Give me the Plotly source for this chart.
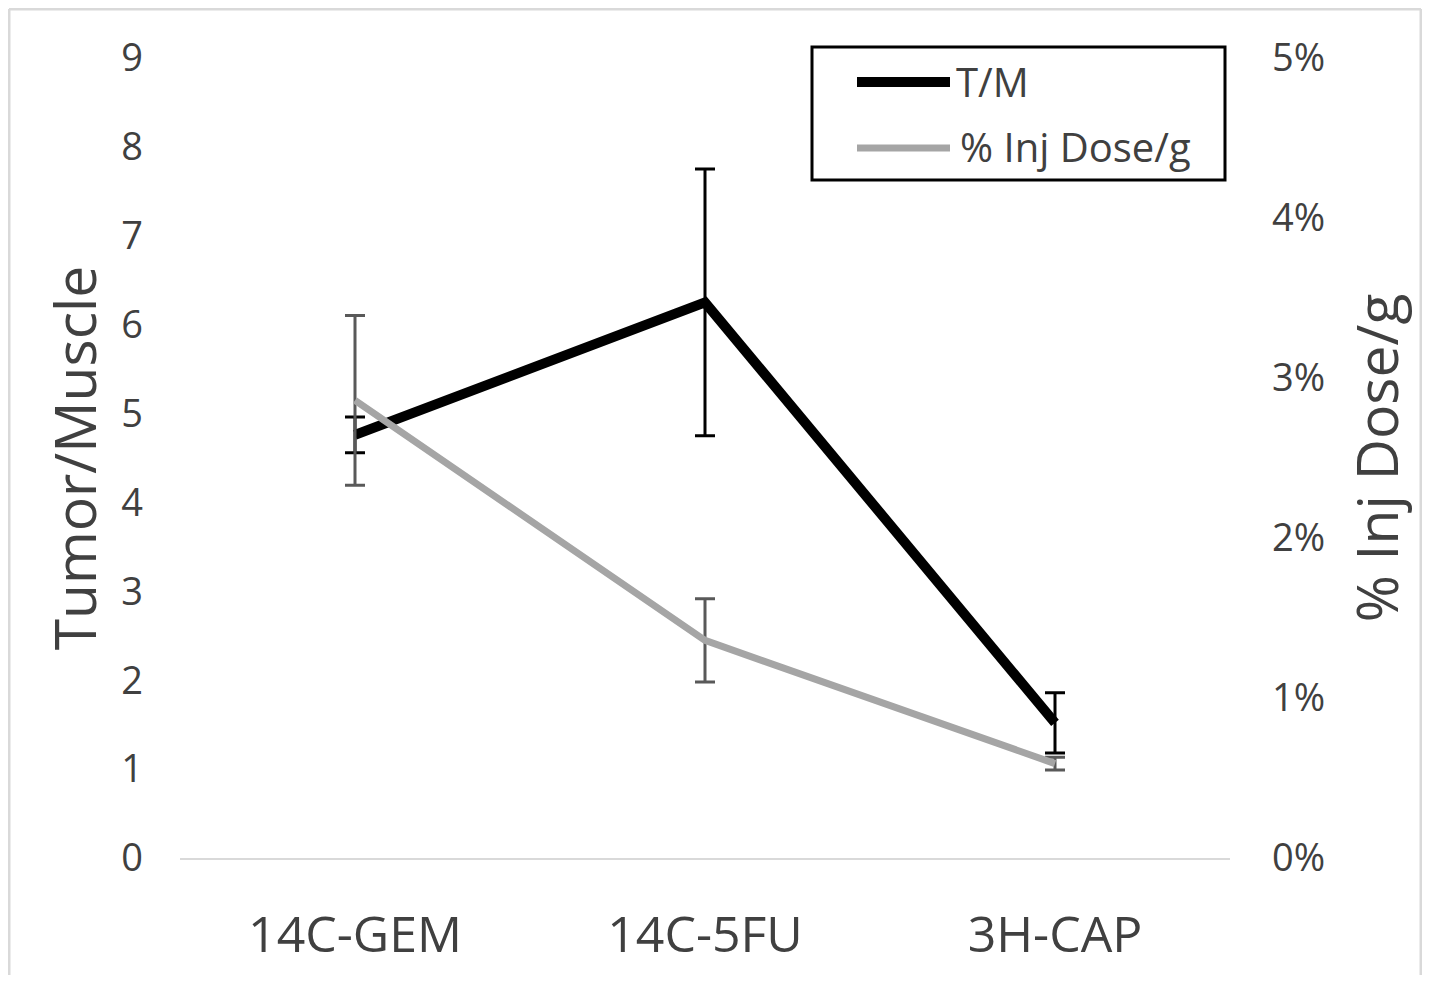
import plotly.graph_objects as go

categories = ["14C-GEM", "14C-5FU", "3H-CAP"]
tm_values = [4.76, 6.25, 1.52]
tm_errors = [0.20, 1.50, 0.34]
dose_values = [0.0286, 0.0136, 0.0059]
dose_errors = [0.0053, 0.0026, 0.0004]
legend_labels = ["T/M", "% Inj Dose/g"]

FONT = "'Open Sans', Lato, sans-serif"
TXT = "#404040"

fig = go.Figure()
fig.add_trace(go.Scatter(
    x=categories, y=tm_values, mode="lines", name=legend_labels[0],
    line=dict(color="black", width=10),
    error_y=dict(type="data", array=tm_errors, visible=True, color="black", thickness=3, width=10),
    yaxis="y", showlegend=False,
))
fig.add_trace(go.Scatter(
    x=categories, y=dose_values, mode="lines", name=legend_labels[1],
    line=dict(color="#A5A5A5", width=7),
    error_y=dict(type="data", array=dose_errors, visible=True, color="#595959", thickness=3, width=10),
    yaxis="y2", showlegend=False,
))

OFF = 8  # page body margin
W, H = 1414, 967
L, T = 172, 50
pw, ph = 1050, 800
R, B = W - L - pw, H - T - ph

def px(x):
    return (x - OFF - L) / pw

def py(y):
    return (T + ph - (y - OFF)) / ph

border = dict(color="#D9D9D9", width=3)
shapes = [
    dict(type="line", xref="paper", yref="paper", x0=px(9), x1=px(1421), y0=py(9), y1=py(9), line=border, layer="below"),
    dict(type="line", xref="paper", yref="paper", x0=px(9), x1=px(9), y0=py(9), y1=py(983), line=border, layer="below"),
    dict(type="line", xref="paper", yref="paper", x0=px(1421), x1=px(1421), y0=py(9), y1=py(983), line=border, layer="below"),
    dict(type="rect", xref="paper", yref="paper", x0=px(812), x1=px(1225), y0=py(180), y1=py(47),
         line=dict(color="black", width=3), fillcolor="white"),
    dict(type="line", xref="paper", yref="paper", x0=px(857), x1=px(950), y0=py(82), y1=py(82),
         line=dict(color="black", width=10)),
    dict(type="line", xref="paper", yref="paper", x0=px(857), x1=px(950), y0=py(148), y1=py(148),
         line=dict(color="#A5A5A5", width=7)),
]
annotations = [
    dict(text=legend_labels[0], xref="paper", yref="paper", x=px(954), y=py(81), xanchor="left", yanchor="middle",
         showarrow=False, font=dict(family=FONT, size=40, color=TXT)),
    dict(text=legend_labels[1], xref="paper", yref="paper", x=px(958), y=py(146), xanchor="left", yanchor="middle",
         showarrow=False, font=dict(family=FONT, size=40, color=TXT)),
]

fig.update_layout(
    width=W, height=H,
    margin=dict(l=L, r=R, t=T, b=B, autoexpand=False),
    paper_bgcolor="white", plot_bgcolor="white",
    font=dict(family=FONT, color=TXT),
    xaxis=dict(
        showgrid=False, showline=True, linecolor="#D9D9D9", linewidth=2,
        tickfont=dict(size=50, color=TXT), ticks="", ticklabelstandoff=32,
        range=[-0.5, 2.5], automargin=False,
    ),
    yaxis=dict(
        range=[0, 9], dtick=1, showgrid=False, zeroline=False, showline=False,
        tickfont=dict(size=38, color=TXT), ticks="", ticklabelstandoff=36,
        title=dict(text="Tumor/Muscle", font=dict(size=57, color=TXT), standoff=6),
        automargin=False,
    ),
    yaxis2=dict(
        range=[0, 0.05], dtick=0.01, tickformat=".0%", overlaying="y", side="right",
        showgrid=False, zeroline=False, showline=False,
        tickfont=dict(size=38, color=TXT), ticks="", ticklabelstandoff=41,
        title=dict(text="% Inj Dose/g", font=dict(size=57, color=TXT), standoff=33),
        automargin=False,
    ),
    shapes=shapes,
    annotations=annotations,
)

fig.write_html("out.html")
